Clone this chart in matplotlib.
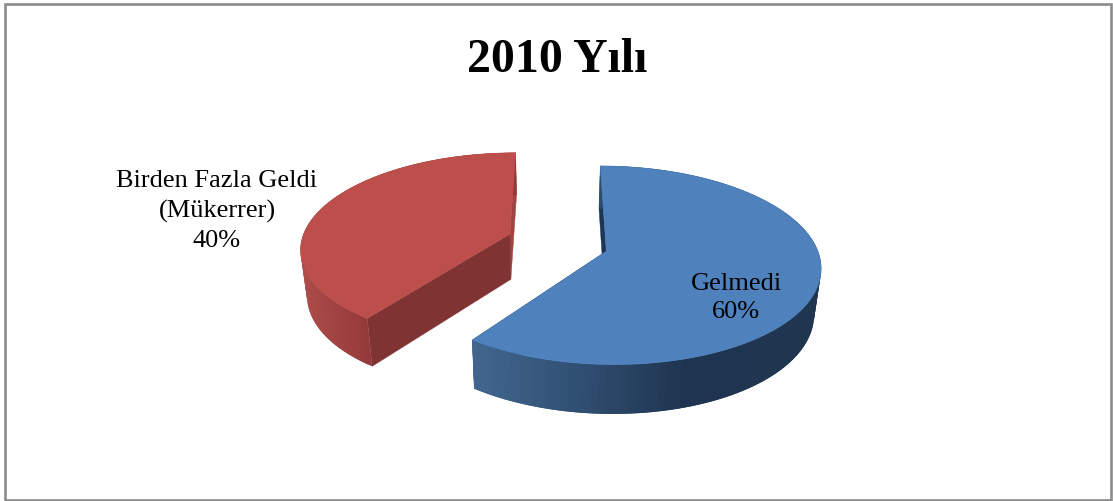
import numpy as np
import matplotlib
matplotlib.use("Agg")
import matplotlib.pyplot as plt
from matplotlib.patches import Polygon, Rectangle
from matplotlib.colors import to_rgb

title = "2010 Yılı"
categories = ["Gelmedi", "Birden Fazla Geldi\n(Mükerrer)"]
values = [60, 40]

top_colors = ["#4f81bd", "#bc4f4c"]
cut_colors = [("#1d3655", "#1d3655"), ("#a14341", "#7f3333")]
label_pos = [(736, 298), (217, 211)]

CX, CY, RX, RY, K = 557.5, 244, 209, 95, 0.14
EXPLODE = [(0.231, -0.085), (-0.231, 0.095)]
X0, SHRINK, DEPTH = 550, 0.974, 45.5
START = 0.0

RIM_STOPS = [[474, 560, 690, 820], [302, 370]]
RIM_COLORS = [["#42668f", "#345579", "#1f3450", "#1f3550"], ["#ad4c49", "#94393a"]]


def side_color(i, x):
    cols = [to_rgb(c) for c in RIM_COLORS[i]]
    return tuple(np.interp(x, RIM_STOPS[i], [c[n] for c in cols]) for n in range(3))


def project(u, v):
    w = 1 + K * v
    return CX + RX * u / w, CY - RY * v / w, w


def lower(x, y, w):
    return X0 + (x - X0) * SHRINK, y + DEPTH / np.sqrt(w)


fig = plt.figure(figsize=(11.13, 5.02), dpi=100, facecolor="white")
ax = fig.add_axes([0, 0, 1, 1])
ax.set_xlim(0, 1113)
ax.set_ylim(502, 0)
ax.axis("off")
ax.add_patch(Rectangle((5, 4.5), 1106, 496, fill=False, ec="#8c8c8c", lw=1.9))

angle = START
total = sum(values)
for i, val in enumerate(values):
    sweep = 360 * val / total
    th = np.radians(np.linspace(angle, angle + sweep, 121))
    eu, ev = EXPLODE[i]
    px, py, pw = project(eu + np.sin(th), ev + np.cos(th))
    ax_, ay_, aw_ = project(eu, ev)
    bx, by = lower(px, py, pw)
    abx, aby = lower(ax_, ay_, aw_)
    # cut faces
    for k, col in zip((-1, 0), cut_colors[i]):
        ax.add_patch(Polygon([(ax_, ay_), (px[k], py[k]), (bx[k], by[k]), (abx, aby)],
                             fc=col, ec=col, lw=0.3))
    # outer rim, strip by strip; each strip overlaps the next to avoid seams
    for j in range(len(th) - 1):
        e = min(j + 2, len(th) - 1)
        col = side_color(i, px[j])
        ax.add_patch(Polygon([(px[j], py[j]), (px[e], py[e]), (bx[e], by[e]), (bx[j], by[j])],
                             fc=col, ec="none", lw=0))
    ax.add_patch(Polygon(np.r_[[[ax_, ay_]], np.c_[px, py]], fc=top_colors[i],
                         ec=top_colors[i], lw=0.4))
    angle += sweep

for cat, val, (lx, ly) in zip(categories, values, label_pos):
    ax.text(lx, ly, f"{cat}\n{val * 100 // total}%", ha="center", va="center",
            family="Liberation Serif", fontsize=19, linespacing=1.41, color="black")

ax.text(557, 60, title, ha="center", va="center", family="Liberation Serif",
        fontsize=34.4, fontweight="bold", color="black")

fig.savefig("out.png", dpi=100)
